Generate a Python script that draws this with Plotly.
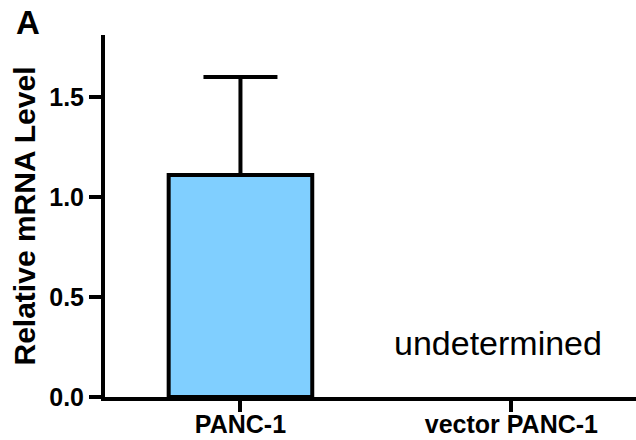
import plotly.graph_objects as go

categories = ["PANC-1", "vector PANC-1"]
values = [1.11, None]  # second group undetermined
errors = [0.49, None]
y_ticks = [0.0, 0.5, 1.0, 1.5]
y_tick_labels = ["0.0", "0.5", "1.0", "1.5"]
note_text = "undetermined"
panel_label = "A"

fig = go.Figure()
fig.add_trace(go.Bar(
    x=categories, y=values,
    marker=dict(color="#80CFFF", line=dict(color="black", width=4)),
    width=0.53,
    error_y=dict(type="data", array=errors, visible=True, color="black",
                 thickness=4, width=37, symmetric=False, arrayminus=[0, 0]),
    showlegend=False,
))

fig.add_annotation(x=0.95, y=0.27, xref="x", yref="y", text=note_text,
                   showarrow=False, font=dict(family="Liberation Sans", size=34, color="black"))
fig.add_annotation(x=-0.171, y=1.091, xref="paper", yref="paper", text="<b>%s</b>" % panel_label,
                   showarrow=False, xanchor="left", yanchor="top",
                   font=dict(family="Liberation Sans", size=33, color="black"))

fig.update_layout(
    width=636, height=440,
    margin=dict(l=105, r=0, t=35, b=43),
    plot_bgcolor="white", paper_bgcolor="white",
    font=dict(family="Liberation Sans", color="black"),
    xaxis=dict(
        type="category", range=[-0.5, 1.46],
        showline=True, linecolor="black", linewidth=4,
        ticks="outside", ticklen=11, tickwidth=4, tickcolor="black",
        tickfont=dict(size=25, family="Liberation Sans", color="black"),
        tickprefix="<b>", ticksuffix="</b>", ticklabelstandoff=-9,
        showgrid=False, zeroline=False, automargin=False,
    ),
    yaxis=dict(
        range=[0, 1.81],
        tickvals=y_ticks, ticktext=["<b>%s</b>" % t for t in y_tick_labels],
        showline=True, linecolor="black", linewidth=4,
        ticks="outside", ticklen=12, tickwidth=4, tickcolor="black",
        tickfont=dict(size=25, family="Liberation Sans", color="black"),
        showgrid=False, zeroline=False, automargin=False,
        title=dict(text="<b>Relative mRNA Level</b>", standoff=6,
                   font=dict(size=30, family="Liberation Sans", color="black")),
    ),
)

fig.write_html("out.html")
